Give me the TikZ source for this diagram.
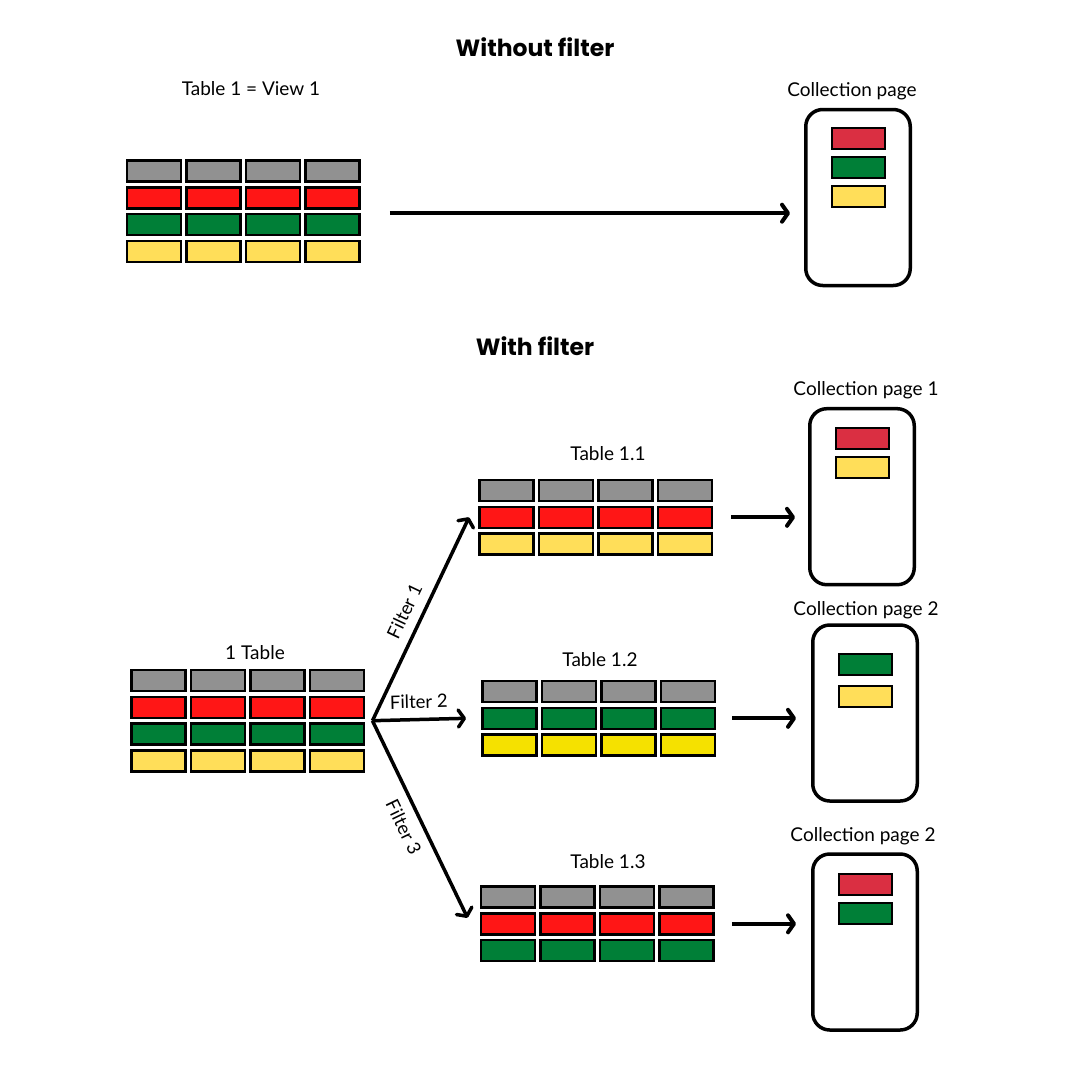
\documentclass[tikz,border=0pt]{standalone}
\usepackage{fontspec}
\setmainfont{Lato}
\newfontfamily\headfont{Poppins}
\usepackage{xcolor}
\usetikzlibrary{fit,calc,arrows.meta,positioning}
\definecolor{cellgrey}{HTML}{919191}
\definecolor{cellred}{HTML}{FF1616}
\definecolor{cellgreen}{HTML}{007F37}
\definecolor{cellyellow}{HTML}{FFDE59}
\definecolor{celllemon}{HTML}{F5E100}
\definecolor{pagered}{HTML}{DA2F42}
\tikzset{
  tcell/.style   = {draw=black, line width=2.5pt, minimum width=54pt,
                    minimum height=21pt, inner sep=0pt},
  pcell/.style   = {draw=black, line width=2pt, minimum width=53pt,
                    minimum height=21pt, inner sep=0pt},
  pagebox/.style = {draw=black, line width=3.5pt, rounded corners=17pt,
                    minimum width=104.5pt, minimum height=176pt, inner sep=0pt},
  tabbox/.style  = {draw=none, inner sep=0pt},
  flow/.style    = {-{Straight Barb[length=6pt,width=17pt,round]}, line width=4pt},
  filt/.style    = {flow, line width=3.5pt},
  catlab/.style  = {font=\fontsize{19}{22}\selectfont, anchor=base},
  filtlab/.style = {font=\fontsize{18.5}{21}\selectfont, sloped},
  headlab/.style = {font=\headfont\bfseries\fontsize{23.5}{27}\selectfont, anchor=base},
}
\newcommand{\datatable}[4]{%
  \begin{scope}[shift={#2}]
    \foreach \rowcol [count=\rw] in {#4} {
      \foreach \cl in {1,...,4} {
        \node[tcell, fill=\rowcol] (#1r\rw c\cl) at ({(\cl-1)*59.5}, {(\rw-1)*26.8}) {};
      }
    }
  \end{scope}
  \node[tabbox, fit=(#1r1c1)(#1r#3c4)] (#1box) {};
}
\newcommand{\colpage}[5]{%
  \node[pagebox] (#1) at #2 {};
  \foreach \pcol [count=\k] in {#5} {
    \node[pcell, fill=\pcol] (#1c\k) at ($(#1.center)+(0, {#3+(\k-1)*#4})$) {};
  }
}

\begin{document}
\begin{tikzpicture}[x=1pt, y=-1pt]
  \useasboundingbox (0,0) rectangle (1080,1080);

  \node[headlab] (head1) at (535, 56.5) {Without filter};
  \node[headlab] (head2) at (535, 355.5) {With filter};

  \datatable{A}{(154, 171)}{4}{cellgrey, cellred, cellgreen, cellyellow}
  \node[catlab] (Alab) at (251, 95) {Table 1 = View 1};
  \colpage{P0}{(858, 197.5)}{-59}{29}{pagered, cellgreen, cellyellow}
  \node[catlab] (P0lab) at (852, 96.5) {Collection page};
  \draw[flow, shorten <=29pt, shorten >=14pt] ([yshift=-2pt]Abox.east) -- ([yshift=-2pt]Abox.east -| P0.west);

  \datatable{B}{(158.5, 680.5)}{4}{cellgrey, cellred, cellgreen, cellyellow}
  \node[catlab] (Blab) at (255, 659) {1 Table};
  \coordinate (split) at ([xshift=7pt]Bbox.east);

  \datatable{T1}{(506.5, 490.5)}{3}{cellgrey, cellred, cellyellow}
  \node[catlab] (T1lab) at (608, 460.7) {Table 1.1};
  \datatable{T2}{(509.5, 691.5)}{3}{cellgrey, cellgreen, celllemon}
  \node[catlab] (T2lab) at (600, 666.5) {Table 1.2};
  \datatable{T3}{(508, 897)}{3}{cellgrey, cellred, cellgreen}
  \node[catlab] (T3lab) at (608, 868.5) {Table 1.3};

  \colpage{P1}{(862, 496.7)}{-58}{29}{pagered, cellyellow}
  \node[catlab] (P1lab) at (866, 395) {Collection page 1};
  \colpage{P2}{(865, 713)}{-48.5}{32}{cellgreen, cellyellow}
  \node[catlab] (P2lab) at (866, 615) {Collection page 2};
  \colpage{P3}{(865, 942)}{-58}{29}{pagered, cellgreen}
  \node[catlab] (P3lab) at (863, 841) {Collection page 2};

  \draw[filt] (split) -- node[filtlab, above=6pt] {Filter 1} ([xshift=-9pt]T1box.west);
  \draw[filt] (split) -- node[filtlab, above=6pt] {Filter 2} ([xshift=-15pt]T2box.west);
  \draw[filt] (split) -- node[filtlab, below=6pt] {Filter 3} ([xshift=-12pt,yshift=6pt]T3box.west);

  \draw[flow, shorten <=18pt, shorten >=13pt] (T1box.east) -- (T1box.east -| P1.west);
  \draw[flow, shorten <=16pt, shorten >=15pt] (T2box.east) -- (T2box.east -| P2.west);
  \draw[flow, shorten <=17pt, shorten >=15pt] (T3box.east) -- (T3box.east -| P3.west);
\end{tikzpicture}
\end{document}
